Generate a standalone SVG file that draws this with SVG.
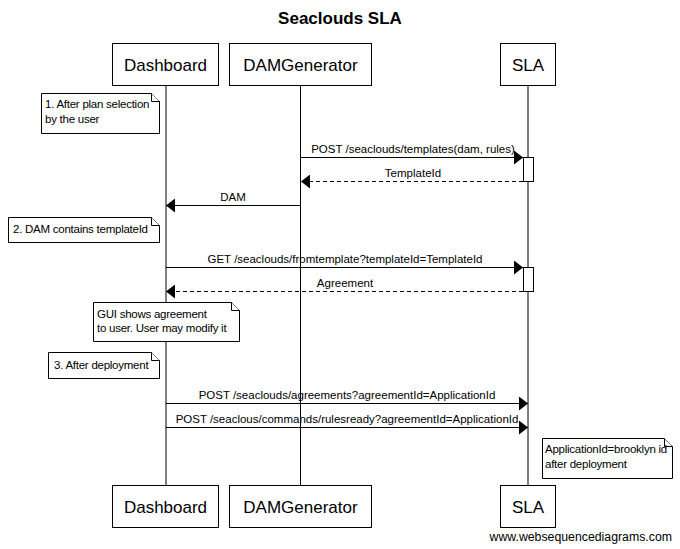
<svg xmlns="http://www.w3.org/2000/svg" width="680" height="549" viewBox="0 0 680 549">
<style>
.box{fill:#fff;stroke:#000;stroke-width:1}
.btxt{font-family:"Liberation Sans",Arial,sans-serif;font-size:17px;text-anchor:middle;fill:#000}
.life{stroke:#000;stroke-width:1;fill:none}
.note{fill:#fff;stroke:#000;stroke-width:1}
.ntxt{font-family:"Liberation Sans",Arial,sans-serif;font-size:11.5px;letter-spacing:-0.25px;fill:#000}
.msg{stroke:#000;stroke-width:1;fill:none}
.dash{stroke-dasharray:4,3}
.mtxt{font-family:"Liberation Sans",Arial,sans-serif;font-size:11.5px;text-anchor:middle;fill:#000}
.act{fill:#fff;stroke:#000;stroke-width:1}
</style>
<defs>
<marker id="ah" markerWidth="9" markerHeight="14" refX="9" refY="7" orient="auto" markerUnits="userSpaceOnUse">
<path d="M0,0 L9,7 L0,14 z" fill="#000"/>
</marker>
</defs>
<rect width="680" height="549" fill="#fff"/>
<text x="340" y="24" font-family="Liberation Sans,Arial,sans-serif" font-size="17" font-weight="bold" text-anchor="middle">Seaclouds SLA</text>

<g id="lifelines">
<line class="life" x1="166" y1="86" x2="166" y2="485" stroke="#666"/>
<line class="life" x1="300.5" y1="86" x2="300.5" y2="485"/>
<line class="life" x1="528" y1="86" x2="528" y2="485" stroke="#666"/>
</g>

<g id="Dashboard">
<rect class="box" x="112.5" y="43.5" width="106" height="42"/>
<text class="btxt" x="165.5" y="71">Dashboard</text>
<rect class="box" x="112.5" y="485.5" width="106" height="42"/>
<text class="btxt" x="165.5" y="513">Dashboard</text>
</g>
<g id="DAMGenerator">
<rect class="box" x="229.5" y="43.5" width="142" height="42"/>
<text class="btxt" x="300.5" y="71">DAMGenerator</text>
<rect class="box" x="229.5" y="485.5" width="142" height="42"/>
<text class="btxt" x="300.5" y="513">DAMGenerator</text>
</g>
<g id="SLA">
<rect class="box" x="500.5" y="43.5" width="55" height="42"/>
<text class="btxt" x="528" y="71">SLA</text>
<rect class="box" x="500.5" y="485.5" width="55" height="42"/>
<text class="btxt" x="528" y="513">SLA</text>
<rect class="act" x="523.5" y="157.5" width="10" height="24"/>
<rect class="act" x="523.5" y="267.5" width="10" height="24"/>
</g>

<g id="connectors">
<line class="msg" x1="300.5" y1="157.5" x2="523" y2="157.5" marker-end="url(#ah)"/>
<text class="mtxt" x="413" y="153">POST /seaclouds/templates(dam, rules)</text>
<line class="msg dash" x1="523" y1="181.5" x2="301" y2="181.5" marker-end="url(#ah)"/>
<text class="mtxt" x="413" y="177">TemplateId</text>
<line class="msg" x1="300.5" y1="205.5" x2="166" y2="205.5" marker-end="url(#ah)"/>
<text class="mtxt" x="233" y="201">DAM</text>
<line class="msg" x1="166" y1="267.5" x2="523" y2="267.5" marker-end="url(#ah)"/>
<text class="mtxt" x="345" y="263">GET /seaclouds/fromtemplate?templateId=TemplateId</text>
<line class="msg dash" x1="523" y1="291.5" x2="166" y2="291.5" marker-end="url(#ah)"/>
<text class="mtxt" x="345" y="287">Agreement</text>
<line class="msg" x1="166" y1="403.5" x2="528" y2="403.5" marker-end="url(#ah)"/>
<text class="mtxt" x="347" y="399">POST /seaclouds/agreements?agreementId=ApplicationId</text>
<line class="msg" x1="166" y1="427.5" x2="528" y2="427.5" marker-end="url(#ah)"/>
<text class="mtxt" x="347" y="423">POST /seaclous/commands/rulesready?agreementId=ApplicationId</text>
</g>

<g id="note1">
<path class="note" d="M41.5,93.5 H151.5 L159.5,101.5 V133.5 H41.5 Z"/>
<path class="note" d="M151.5,93.5 V101.5 H159.5"/>
<text class="ntxt" x="45" y="108">1. After plan selection</text>
<text class="ntxt" x="45" y="123">by the user</text>
</g>
<g id="note2">
<path class="note" d="M8.5,217.5 H151.5 L159.5,225.5 V242.5 H8.5 Z"/>
<path class="note" d="M151.5,217.5 V225.5 H159.5"/>
<text class="ntxt" x="13" y="233">2. DAM contains templateId</text>
</g>
<g id="note3">
<path class="note" d="M93.5,302.5 H231.5 L239.5,310.5 V341.5 H93.5 Z"/>
<path class="note" d="M231.5,302.5 V310.5 H239.5"/>
<text class="ntxt" x="97" y="318">GUI shows agreement</text>
<text class="ntxt" x="97" y="332">to user. User may modify it</text>
</g>
<g id="note4">
<path class="note" d="M48.5,352.5 H151.5 L159.5,360.5 V378.5 H48.5 Z"/>
<path class="note" d="M151.5,352.5 V360.5 H159.5"/>
<text class="ntxt" x="54" y="369">3. After deployment</text>
</g>
<g id="note5">
<path class="note" d="M542.5,438.5 H664.5 L672.5,446.5 V478.5 H542.5 Z"/>
<path class="note" d="M664.5,438.5 V446.5 H672.5"/>
<text class="ntxt" x="545" y="453">ApplicationId=brooklyn id</text>
<text class="ntxt" x="545" y="468">after deployment</text>
</g>

<text x="672" y="541" font-family="Liberation Sans,Arial,sans-serif" font-size="12.3" text-anchor="end">www.websequencediagrams.com</text>
</svg>
